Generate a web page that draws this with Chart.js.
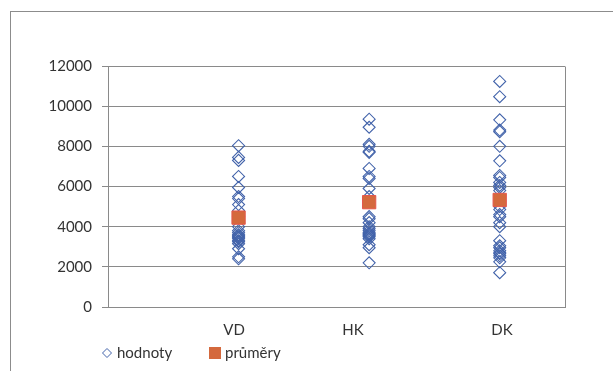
<!DOCTYPE html>
<html>
<head>
<meta charset="utf-8">
<script src="https://cdn.jsdelivr.net/npm/chart.js@4/dist/chart.umd.min.js"></script>
<style>
  html, body { margin: 0; padding: 0; background: #fff; overflow: hidden; }
  #wrap { position: relative; width: 613px; height: 371px; overflow: hidden; }
  #frame { position: absolute; left: 10px; top: 11px; width: 700px; height: 420px;
           border: 1px solid #8c8c8c; box-sizing: border-box; }
  #c { position: absolute; left: 0; top: 0; }
</style>
</head>
<body>
<div id="wrap">
  <div id="frame"></div>
  <canvas id="c" width="613" height="371"></canvas>
</div>
<script>
// Categories and where their labels sit on the x scale
const categories = ['VD', 'HK', 'DK'];
const categoryTickAt = [0.965, 1.876, 3.017];

// Individual values per category
const vdValues = [8030, 7450, 7300, 6500, 5950, 5500, 5400, 5100, 4800, 4500, 4000, 3800,
                  3700, 3600, 3550, 3500, 3450, 3400, 3300, 3250, 3150, 2900, 2500, 2400];
const hkValues = [9350, 8950, 8100, 8000, 7750, 7700, 6900, 6500, 6400, 5900, 5500, 4500,
                  4400, 4200, 4000, 3900, 3800, 3700, 3650, 3600, 3550, 3500, 3400, 3100,
                  2950, 2200];
const dkValues = [11230, 10470, 9320, 8810, 8730, 8000, 7280, 6550, 6450, 6200, 6050, 5950,
                  5800, 5000, 4850, 4600, 4500, 4200, 4000, 3300, 3050, 2950, 2800, 2700,
                  2650, 2550, 2450, 2250, 1710];

// Category averages
const meanValues = [4450, 5220, 5330];

const seriesNames = ['hodnoty', 'průměry'];
const yMin = 0, yMax = 12000, yStep = 2000;

const valueSets = [vdValues, hkValues, dkValues];
const pointData = [];
valueSets.forEach((vals, i) => vals.forEach(v => pointData.push({ x: i + 1, y: v })));
const meanData = meanValues.map((v, i) => ({ x: i + 1, y: v }));

const FONT = 'Lato, "Open Sans", sans-serif';
const TEXT = '#333333';
const GRID = '#8a8a8a';

const plotFrame = {
  id: 'plotFrame',
  afterDatasetsDraw(chart) {
    const a = chart.chartArea, ctx = chart.ctx;
    ctx.save();
    ctx.strokeStyle = GRID;
    ctx.lineWidth = 1;
    ctx.beginPath();
    ctx.moveTo(Math.round(a.right) + 0.5, Math.round(a.top) + 0.5);
    ctx.lineTo(Math.round(a.right) + 0.5, Math.round(a.bottom) + 0.5);
    ctx.stroke();
    ctx.restore();
  }
};

const bottomLegend = {
  id: 'bottomLegend',
  afterDraw(chart) {
    const ctx = chart.ctx;
    const ds = chart.data.datasets;
    const y = 353;
    ctx.save();
    ctx.font = '15px ' + FONT;
    ctx.textBaseline = 'middle';
    ctx.fillStyle = TEXT;
    // diamond item
    let x = 107;
    ctx.strokeStyle = ds[0].borderColor;
    ctx.lineWidth = 1;
    ctx.beginPath();
    ctx.moveTo(x, y - 4.5); ctx.lineTo(x + 4.5, y); ctx.lineTo(x, y + 4.5); ctx.lineTo(x - 4.5, y);
    ctx.closePath();
    ctx.stroke();
    ctx.fillText(ds[0].label, x + 10, y);
    // square item
    x = 209;
    ctx.fillStyle = ds[1].backgroundColor;
    ctx.fillRect(x, y - 6, 12, 12);
    ctx.fillStyle = TEXT;
    ctx.fillText(ds[1].label, x + 16, y);
    ctx.restore();
  }
};

new Chart(document.getElementById('c'), {
  type: 'scatter',
  data: {
    datasets: [
      {
        label: seriesNames[0],
        data: pointData,
        pointStyle: 'rectRot',
        pointRadius: 6,
        borderColor: '#4263AA',
        backgroundColor: 'rgba(0,0,0,0)',
        borderWidth: 1.1,
        order: 1
      },
      {
        label: seriesNames[1],
        data: meanData,
        pointStyle: 'rect',
        pointRadius: 9.4,
        borderColor: '#E5584C',
        backgroundColor: '#D4693D',
        borderWidth: 1,
        order: 0
      }
    ]
  },
  options: {
    responsive: false,
    animation: false,
    events: [],
    layout: { padding: { left: 0, right: 48, top: 66, bottom: 0 } },
    plugins: { legend: { display: false }, tooltip: { enabled: false } },
    scales: {
      x: {
        type: 'linear',
        min: 0,
        max: 3.5,
        afterBuildTicks(scale) { scale.ticks = categoryTickAt.map(v => ({ value: v })); },
        afterFit(scale) { scale.height = 64; },
        grid: { display: false, drawTicks: false },
        border: { display: true, color: GRID, width: 1 },
        ticks: {
          padding: 14,
          autoSkip: false,
          maxRotation: 0,
          color: TEXT,
          font: { family: FONT, size: 15 },
          callback: (v, i) => categories[i]
        }
      },
      y: {
        min: yMin,
        max: yMax,
        afterFit(scale) { scale.width = 108; },
        ticks: {
          stepSize: yStep,
          padding: 10,
          color: TEXT,
          font: { family: FONT, size: 15 },
          callback: v => String(v)
        },
        grid: { color: GRID, lineWidth: 1, drawTicks: true, tickLength: 6 },
        border: { display: true, color: GRID, width: 1 }
      }
    }
  },
  plugins: [plotFrame, bottomLegend]
});
</script>
</body>
</html>
